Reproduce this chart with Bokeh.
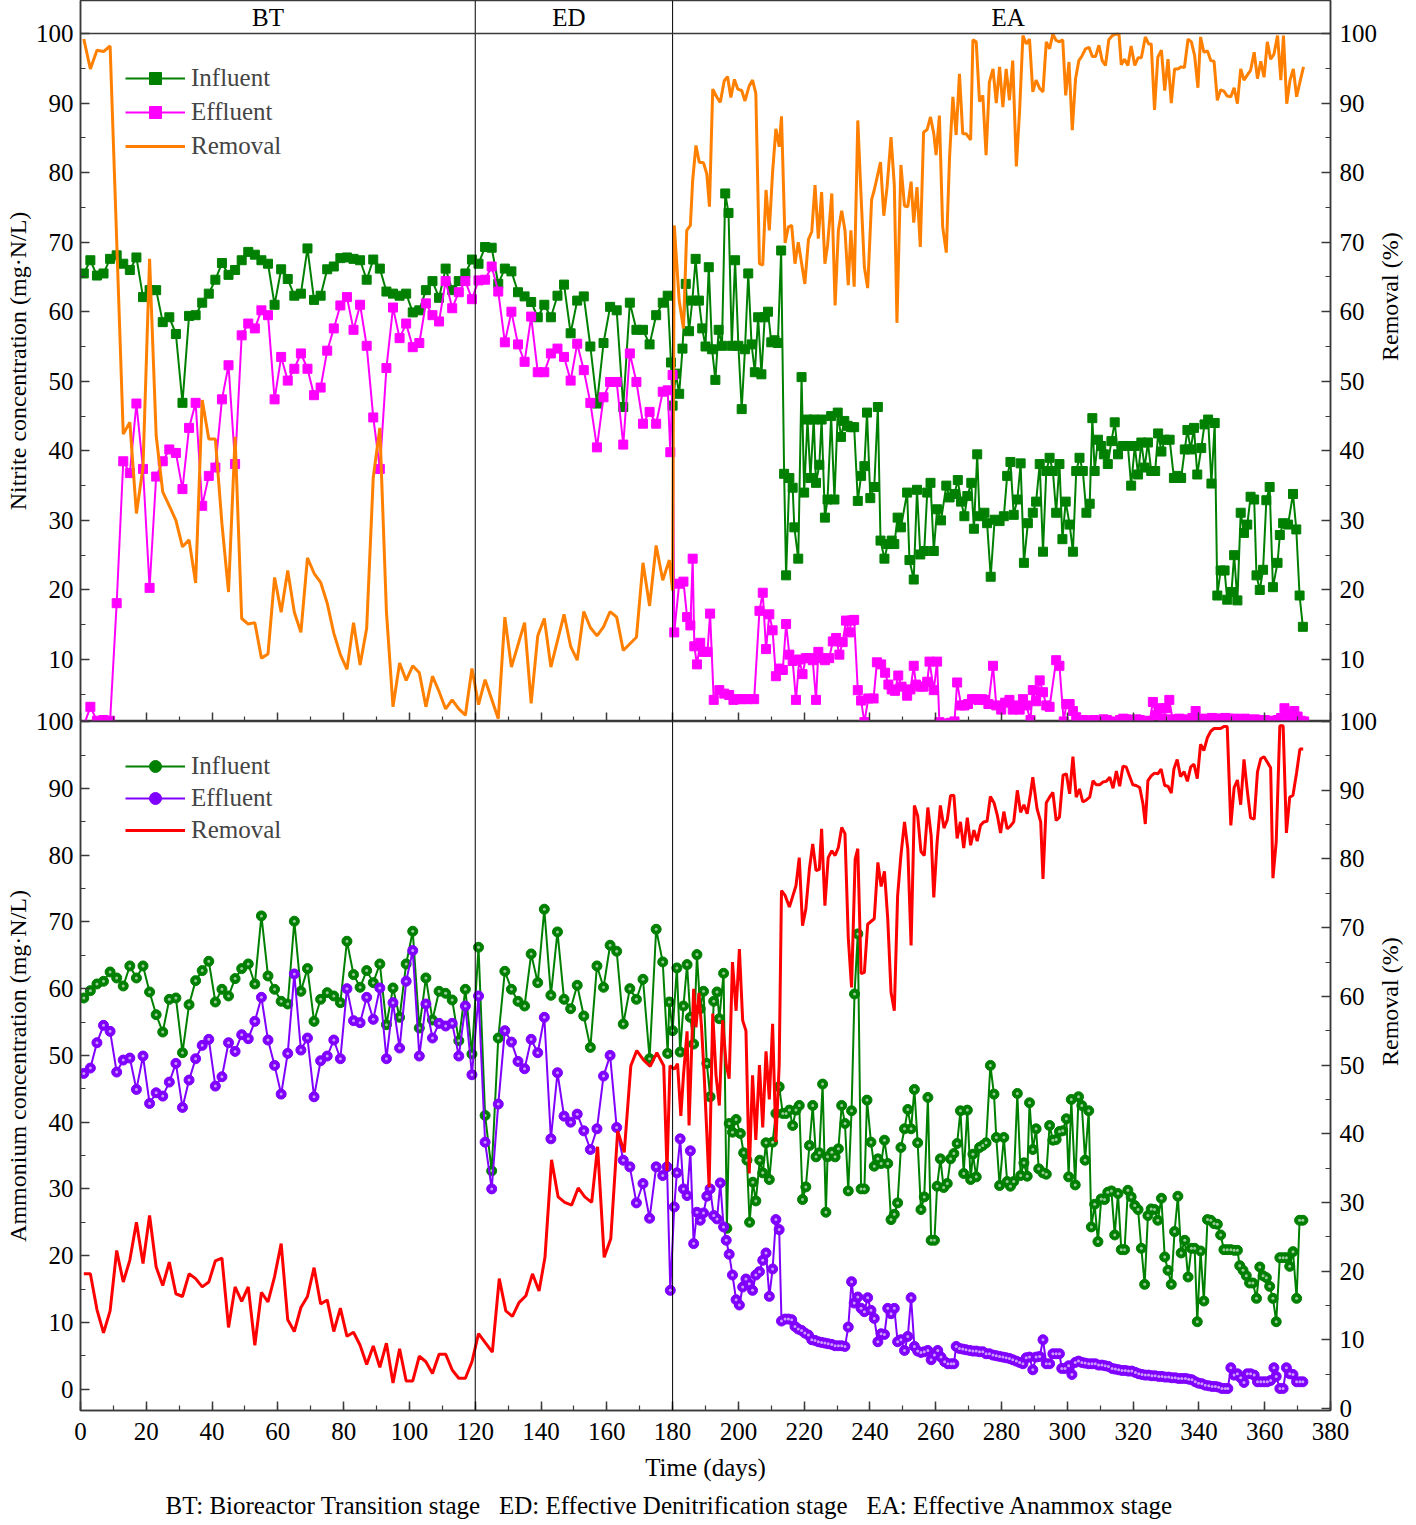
import math
from bokeh.plotting import figure
from bokeh.models import (Range1d, LinearAxis, Span, Legend, LegendItem, Title,
                          SingleIntervalTicker, FixedTicker)
from bokeh.layouts import column
from bokeh.embed import file_html
from bokeh.resources import INLINE
from bokeh.core.properties import value

FONT = "Liberation Serif"
AXC = "#3a3a3a"
FS = "25px"
FS_TITLE = "24px"
GREEN, MAGENTA, ORANGE = "#008000", "#FF00FF", "#FF8000"
PURPLE, RED = "#8000FF", "#FF0000"

# ---------------- stages ----------------
STAGE_LABELS = ["BT", "ED", "EA"]
STAGE_EDGES = [0, 120, 180, 380]
CAPTION = ("BT: Bioreactor Transition stage \u00a0 ED: Effective Denitrification stage"
           " \u00a0 EA: Effective Anammox stage")

# sampling days in BT and ED stages (every other day)
BT_DAYS = list(range(1, 122, 2))
ED_DAYS = list(range(123, 178, 2))

# ================= NITRITE =================
no2_in_bt = [65.5, 67.4, 65.2, 65.5, 67.6, 68.1, 66.9, 66.0, 67.8, 62.1,
             63.1, 63.1, 58.5, 59.2, 56.8, 46.9, 59.4, 59.5, 61.3, 62.6,
             64.6, 67.0, 65.3, 66.0, 67.4, 68.6, 68.2, 67.4, 66.9, 61.0,
             66.1, 64.7, 62.3, 62.6, 69.1, 61.7, 62.3, 66.1, 66.5, 67.7,
             67.8, 67.6, 67.4, 64.6, 67.5, 66.2, 62.9, 62.6, 62.3, 62.6,
             59.9, 60.2, 63.1, 64.4, 62.0, 66.2, 63.1, 64.4, 65.5, 67.5, 66.9]
no2_in_ed = [69.3, 69.2, 64.0, 66.2, 65.8, 62.8, 62.2, 61.4, 59.2, 61.0,
             59.2, 62.3, 63.9, 56.9, 61.6, 62.2, 55.0, 46.8, 55.5, 60.7,
             60.2, 46.3, 61.3, 57.4, 57.4, 55.3, 59.5, 61.3]
no2_in_ed_end_days = [178.5, 179.5, 180.0]
no2_in_ed_end = [62.3, 52.7, 46.5]
no2_in_ea1_days = list(range(181, 214))
no2_in_ea1 = [51.1, 48.2, 54.7, 64.0, 57.2, 61.6, 67.6, 61.6, 57.6, 55.0,
              66.4, 54.6, 50.2, 57.4, 55.1, 77.0, 74.2, 55.1, 67.4, 55.1,
              46.0, 54.6, 65.5, 55.3, 51.3, 59.2, 51.0, 59.2, 60.0, 55.6,
              55.9, 55.5, 68.8]
no2_in_ea2_days = [213.9, 214.5, 215.5, 216.5, 217.0, 218.2, 219.2, 220.0, 221.0, 221.9,
                   222.9, 223.6, 224.6, 225.3, 226.3, 227.1, 228.2, 229.2, 230.2, 231.2,
                   232.2, 233.2, 234.2, 235.2, 236.3, 237.3, 238.3, 239.1, 240.1, 241.3,
                   242.4, 243.2, 244.4, 245.4, 246.6, 247.4, 248.4, 249.4, 251.3, 252.0,
                   253.3, 254.3, 255.3, 256.5, 257.4, 258.4, 259.4]
no2_in_ea2 = [36.7, 22.1, 36.1, 34.7, 29.0, 24.5, 50.6, 34.0, 44.5, 36.1,
              44.5, 35.4, 38.0, 44.5, 30.4, 33.0, 45.0, 33.0, 45.5, 42.0,
              44.3, 43.6, 43.4, 43.4, 32.8, 36.4, 37.8, 45.5, 33.2, 34.8,
              46.3, 27.1, 24.5, 26.6, 27.1, 26.6, 30.4, 29.0, 34.0, 24.3,
              21.5, 34.4, 25.1, 25.6, 34.0, 35.4, 25.6]
no2_in_ea3_days = [260.4, 261.6, 263.2, 264.2, 265.7, 266.7, 267.7, 268.7, 269.6, 270.8,
                   271.6, 272.6, 273.3, 274.8, 275.6, 276.7, 277.9, 279.4, 280.7, 281.7,
                   282.7, 283.7, 284.8, 285.8, 286.8, 288.0, 289.5, 290.5, 291.6, 292.6,
                   293.6, 294.6, 295.6, 296.6, 297.6, 298.5, 299.5, 300.7, 301.7, 302.7,
                   303.7, 304.7, 305.8, 306.8, 307.6, 308.3, 309.3, 310.3, 311.1, 312.3,
                   313.4, 314.4, 315.4, 316.9, 318.4, 319.4, 320.5, 321.5, 322.5, 323.5,
                   324.5, 325.5, 326.7, 327.6, 328.6, 329.6, 331.1, 332.4, 333.6, 334.6,
                   335.7, 336.5, 337.5, 338.5, 339.5, 340.7, 341.7, 342.8, 343.8, 344.8,
                   345.6, 346.6, 347.8, 348.6, 349.9, 350.7, 351.7, 352.7, 353.7, 354.7,
                   355.7, 356.8, 357.5, 358.5, 359.5, 360.5, 361.5, 362.5, 363.9, 364.6,
                   365.6, 367.1, 368.6, 369.6, 370.6, 371.6]
no2_in_ea3 = [31.6, 30.0, 35.0, 33.3, 33.8, 35.8, 32.7, 30.6, 33.5, 35.4,
              28.8, 39.5, 30.6, 31.1, 29.6, 21.9, 30.1, 29.9, 30.6, 36.4,
              38.4, 30.8, 33.0, 38.2, 23.9, 29.6, 31.1, 32.7, 38.1, 25.5,
              37.1, 39.0, 37.1, 31.1, 38.1, 27.3, 32.7, 29.4, 25.5, 37.1,
              39.0, 37.1, 31.1, 32.4, 44.7, 37.1, 41.6, 40.7, 39.5, 38.1,
              41.4, 44.1, 39.5, 40.7, 40.7, 35.0, 40.7, 36.6, 41.2, 37.6,
              41.2, 37.1, 37.1, 42.5, 39.9, 41.6, 41.6, 36.1, 36.4, 36.1,
              40.2, 43.0, 40.2, 43.3, 36.6, 40.4, 43.8, 44.5, 35.3, 44.0,
              19.2, 22.8, 22.8, 18.6, 19.7, 25.0, 18.5, 31.1, 28.2, 29.4,
              33.4, 33.0, 22.1, 20.0, 22.9, 32.9, 34.8, 20.4, 23.9, 27.9,
              29.6, 29.4, 33.8, 28.7, 19.2, 14.7]

no2_out_bt = [0.5, 3.2, 1.2, 1.3, 1.2, 18.1, 38.5, 36.8, 46.8, 37.4,
              20.3, 36.3, 38.5, 40.2, 39.7, 34.5, 43.3, 46.9, 32.1, 36.4,
              37.6, 47.4, 52.3, 38.1, 56.6, 58.3, 57.6, 60.2, 59.5, 47.4,
              53.5, 50.1, 51.8, 54.0, 51.8, 48.0, 49.1, 54.4, 57.6, 60.9,
              62.1, 57.4, 61.0, 55.1, 44.8, 37.4, 51.9, 60.6, 56.2, 58.3,
              54.9, 55.5, 61.2, 59.5, 58.6, 64.4, 60.5, 62.8, 64.4, 61.8, 64.5]
no2_out_ed = [64.6, 66.5, 62.9, 55.6, 60.0, 55.3, 52.8, 59.3, 51.3, 51.3,
              54.0, 54.7, 53.5, 50.1, 55.4, 51.6, 46.9, 40.5, 47.7, 49.9,
              49.9, 40.9, 54.0, 49.9, 43.9, 45.6, 43.9, 48.5]
no2_out_ed_end_days = [178.5, 179.3, 180.0]
no2_out_ed_end = [48.7, 39.8, 50.9]
no2_out_ea1_days = [180.5, 182.0, 183.3, 184.4, 185.4, 186.1, 186.6, 187.4, 188.4, 189.4,
                    190.6, 191.4, 192.5, 194.2, 195.7, 197.2, 198.5, 199.9, 201.3, 202.8,
                    204.8, 206.4, 207.4, 208.4, 209.4, 210.4, 211.4, 212.4, 213.5, 214.5,
                    215.5, 216.5, 217.5, 218.5, 219.5, 220.5, 221.6, 222.6, 223.6, 224.3,
                    225.3, 226.3, 227.6, 228.7, 229.7, 230.7, 231.7, 232.7, 233.7, 234.4,
                    235.2, 236.3, 237.3, 238.3, 239.5, 241.1, 242.1, 243.4, 244.6, 245.6,
                    246.6, 247.6, 248.6, 249.6, 251.3, 252.3, 253.3, 254.0, 255.3, 256.3,
                    257.4, 258.1, 259.4, 260.4, 261.1]
no2_out_ea1 = [13.9, 20.9, 21.2, 16.1, 14.9, 24.5, 11.9, 9.3, 12.4, 11.1,
               11.1, 16.6, 4.2, 5.6, 5.1, 4.9, 4.2, 4.3, 4.3, 4.3,
               4.3, 17.0, 19.6, 11.5, 16.5, 14.2, 7.6, 8.7, 8.5, 15.1,
               10.7, 9.8, 4.2, 10.0, 7.9, 10.2, 10.2, 9.9, 4.2, 11.1,
               10.2, 9.9, 10.2, 12.6, 13.1, 10.7, 12.5, 15.6, 13.9, 15.6,
               15.7, 5.6, 4.1, 1.0, 4.4, 4.4, 9.6, 9.3, 8.1, 6.4,
               5.7, 5.5, 7.7, 6.1, 4.8, 5.7, 9.1, 6.4, 6.1, 6.1,
               6.8, 9.7, 5.6, 9.7, 1.0]
no2_out_ea2_days = [262.4, 263.4, 264.5, 265.7, 266.5, 267.7, 268.7, 269.8, 271.0, 272.0,
                    273.0, 274.0, 275.0, 276.0, 277.4, 278.4, 279.9, 281.1, 282.4, 283.4,
                    284.5, 285.5, 286.5, 287.5, 288.8, 289.5, 290.5, 291.6, 292.6, 293.6,
                    294.6, 296.6, 297.6, 298.9, 299.7, 300.7, 301.7, 302.7, 303.7]
no2_out_ea2 = [0.8, 0.6, 0.9, 1.1, 6.7, 3.4, 3.4, 3.6, 4.3, 4.3,
               4.2, 4.3, 4.2, 3.6, 9.1, 3.4, 2.8, 3.8, 4.2, 2.8,
               3.4, 2.8, 4.3, 3.4, 1.3, 5.6, 4.0, 7.0, 5.3, 3.4,
               3.2, 9.9, 9.1, 1.1, 3.6, 3.6, 2.6, 1.7, 1.1]
no2_out_ea3_days = list(range(305, 373))
no2_out_ea3 = [1.3, 0.8, 1.2, 1.3, 0.9, 1.2, 1.4, 1.3, 1.1, 0.5, 0.4, 1.3,
               1.5, 1.4, 1.3, 1.2, 1.4, 1.3, 0.6, 1.2, 1.1, 3.9, 2.0, 3.0,
               1.5, 3.0, 4.2, 1.4, 1.2, 1.5, 1.4, 1.3, 1.2, 1.6, 2.6, 1.3,
               1.4, 1.5, 1.3, 1.6, 1.5, 1.4, 1.5, 1.6, 1.5, 1.4, 1.5, 1.3,
               1.4, 1.5, 1.3, 1.2, 1.4, 1.3, 1.2, 1.3, 1.1, 1.2, 0.8, 1.3,
               1.6, 3.0, 2.2, 1.4, 2.6, 1.8, 1.2, 1.1]

no2_rem_bt_days = [1, 3, 5, 7, 9] + list(range(13, 122, 2))
no2_rem_bt = [99.2, 94.9, 97.6, 97.4, 98.2, 42.4, 44.1, 31.0, 37.6, 67.6,
              42.2, 34.1, 32.1, 30.0, 26.2, 27.2, 21.0, 47.3, 41.7, 41.7,
              29.5, 19.7, 42.0, 15.9, 15.1, 15.3, 10.2, 10.8, 21.8, 16.8,
              22.8, 16.8, 13.9, 24.6, 22.4, 21.1, 18.1, 13.8, 10.7, 8.6,
              15.3, 9.2, 14.5, 36.2, 43.3, 16.9, 3.2, 9.5, 7.0, 9.1,
              8.1, 3.2, 7.6, 5.4, 2.9, 4.2, 2.9, 2.0, 8.7, 3.5]
no2_rem_ed_days = [123, 127, 129, 131, 135, 137, 139, 141, 143, 147, 149, 151, 153,
                   155, 157, 159, 161, 163, 165, 169, 171, 173, 175, 177, 179, 180]
no2_rem_ed = [7.1, 1.5, 16.1, 8.9, 15.3, 3.7, 13.4, 15.9, 8.9, 16.5, 11.9, 9.9, 16.9,
              14.6, 13.4, 14.7, 16.9, 16.1, 11.3, 13.2, 23.9, 17.7, 26.4, 21.4, 24.3, 19.9]
no2_rem_ea1_days = [180.5, 182.0, 183.3, 184.3, 185.4, 186.1, 187.1, 188.1, 189.4, 190.4,
                    191.2, 192.2, 193.5, 194.5, 195.7, 196.7, 197.7, 198.8, 199.8, 201.0,
                    202.0, 203.3, 204.3, 205.3, 206.4, 207.4, 208.4, 209.4, 210.4, 211.4,
                    212.4, 213.1, 214.2, 215.2, 216.2, 217.2, 218.2, 220.2, 221.3, 222.3,
                    223.3, 224.3, 225.3, 226.3, 227.1, 228.4, 229.4, 230.4, 231.4, 232.4,
                    233.4, 234.2, 235.2, 236.3, 237.3, 238.3, 239.3, 240.5, 241.3, 243.2,
                    244.2, 245.2, 246.4, 247.4, 248.2, 249.4, 250.5, 251.5, 252.5, 253.3,
                    254.3, 255.3, 256.3, 257.4, 258.4, 259.4]
no2_rem_ea1 = [72.4, 61.6, 57.6, 71.7, 72.4, 78.9, 83.9, 81.5, 81.4, 79.8,
               75.1, 92.0, 90.8, 90.1, 93.2, 93.8, 90.8, 93.4, 92.0, 91.8,
               90.3, 92.5, 93.3, 91.4, 66.9, 66.7, 77.5, 71.7, 80.1, 86.3,
               83.7, 88.1, 69.9, 72.2, 72.4, 66.9, 70.0, 64.0, 70.4, 71.5,
               78.2, 70.5, 77.2, 66.9, 69.5, 77.0, 60.9, 71.7, 74.5, 71.7,
               63.8, 71.7, 63.6, 87.5, 76.5, 66.4, 63.4, 76.1, 77.5, 81.5,
               73.8, 77.9, 85.1, 78.2, 58.4, 81.1, 75.2, 75.1, 78.7, 72.8,
               77.9, 69.3, 85.8, 86.2, 88.0, 85.6]
no2_rem_ea2_days = [260.1, 261.1, 262.1, 263.2, 264.2, 265.2, 266.2, 267.2, 268.2, 269.2,
                    270.6, 271.3, 272.3, 273.3, 274.3, 275.3, 276.3, 277.4, 278.4, 279.4,
                    280.4, 281.4, 282.4, 283.4, 284.5, 285.5, 286.5, 287.5, 288.5, 289.5,
                    290.5, 291.6, 292.6, 293.6, 294.6, 295.6, 296.6, 297.6, 298.6, 299.5,
                    300.5, 301.5, 302.5, 303.5, 304.5, 305.5, 306.6, 307.6, 308.6, 309.6,
                    310.6, 311.6, 312.6, 313.7, 314.7, 315.7, 316.4, 317.4, 318.4, 319.4,
                    320.5, 321.5, 322.5, 323.7, 324.7, 325.5, 326.5, 327.5, 328.6, 329.6,
                    330.6, 331.6, 332.6, 333.6, 334.6, 335.6, 336.7, 337.7, 338.7, 339.7,
                    340.5, 341.5, 342.6, 343.6, 344.6, 345.6, 346.6, 347.6, 348.6, 349.7,
                    350.7, 351.7, 352.7, 353.7, 354.7, 355.7, 356.8, 357.8, 358.8, 359.8,
                    360.8, 361.8, 362.8, 363.9, 364.9, 365.7, 366.7, 367.7, 368.7, 369.7,
                    370.7, 371.8]
no2_rem_ea2 = [82.5, 88.2, 72.2, 68.5, 82.3, 90.9, 85.4, 94.2, 85.6, 85.6,
               84.7, 99.1, 98.8, 90.2, 91.1, 82.5, 93.0, 94.9, 90.0, 95.2,
               89.4, 94.9, 90.4, 96.1, 80.9, 89.0, 99.7, 98.5, 99.2, 91.6,
               93.3, 92.1, 91.6, 98.8, 97.8, 99.9, 99.0, 98.8, 99.1, 91.1,
               95.9, 86.1, 93.5, 96.1, 96.8, 97.8, 98.0, 96.7, 96.7, 98.3,
               96.1, 95.4, 99.1, 99.7, 99.9, 99.9, 95.5, 96.3, 95.4, 98.2,
               95.4, 96.5, 96.5, 99.5, 98.5, 98.5, 89.0, 96.6, 97.6, 91.8,
               96.3, 90.0, 94.9, 94.9, 95.2, 95.1, 99.2, 98.8, 96.8, 92.2,
               99.5, 97.3, 97.5, 96.1, 96.0, 90.4, 91.9, 91.7, 91.0, 90.9,
               92.2, 89.9, 94.9, 93.3, 94.0, 94.7, 97.3, 93.5, 96.0, 93.7,
               98.8, 96.3, 97.0, 99.7, 93.3, 99.7, 89.9, 93.3, 94.9, 90.9,
               93.0, 95.2]

# ================= AMMONIUM =================
nh4_in_bt = [58.6, 59.7, 60.7, 61.1, 62.5, 61.6, 60.4, 63.4, 61.6, 63.4,
             59.5, 56.1, 53.5, 58.4, 58.6, 50.4, 57.6, 61.2, 62.7, 64.1,
             58.0, 59.9, 58.9, 61.5, 63.0, 63.7, 60.7, 70.9, 61.9, 59.9,
             58.1, 57.7, 70.1, 59.6, 63.0, 55.1, 58.4, 59.4, 58.9, 57.9,
             67.1, 62.1, 60.2, 62.7, 60.9, 63.7, 54.6, 60.1, 55.7, 63.7,
             68.6, 54.1, 61.6, 55.3, 59.6, 59.3, 58.3, 52.2, 59.9, 50.2, 66.2]
nh4_in_ed = [41.0, 32.7, 52.6, 62.6, 59.9, 58.1, 57.4, 65.2, 60.9, 71.9,
             59.0, 68.5, 58.4, 57.0, 60.5, 55.9, 51.2, 63.4, 60.2, 66.5,
             65.6, 54.7, 60.0, 58.4, 61.4, 49.5, 68.9, 64.0]
nh4_in_ed_end_days = [178.5, 179.0, 180.0]
nh4_in_ed_end = [50.3, 58.0, 53.7]
nh4_in_ea_days = [181.3, 182.3, 183.3, 184.4, 185.4, 186.4, 187.4, 188.4, 189.4, 190.4,
                  191.4, 192.5, 193.5, 194.2, 195.5, 196.5, 197.2, 198.2, 199.3, 200.6,
                  201.6, 202.6, 203.4, 204.4, 205.3, 206.5, 207.4, 208.4, 209.4, 210.4,
                  211.4, 212.4, 213.5, 214.5, 215.5, 216.5, 217.5, 218.5, 219.5, 220.5,
                  221.6, 222.6, 223.6, 224.6, 225.6, 226.6, 227.1, 228.4, 229.4, 230.4,
                  231.4, 232.4, 233.4, 234.4, 235.3, 236.3, 237.3, 238.3, 239.1, 240.3,
                  241.3, 242.4, 243.4, 244.4, 245.4, 246.4, 247.4, 248.4, 249.4, 250.5,
                  251.5, 252.5, 253.5, 254.5, 255.5, 256.5, 257.6, 258.6, 259.6, 260.4,
                  261.4, 262.4, 263.5, 264.5, 265.5, 266.5, 267.5, 268.5, 269.6, 270.6,
                  271.3, 272.3, 273.3, 274.3, 275.3, 276.6, 277.7, 278.4, 279.4, 280.7,
                  281.7, 282.7, 283.7, 284.8, 285.8, 286.8, 287.8, 288.5, 289.5, 290.5,
                  291.3, 292.6, 293.6, 294.6, 295.6, 296.6, 297.6, 298.6, 299.7, 300.4,
                  301.2, 302.4, 303.4, 304.4, 305.4, 306.5, 307.3, 308.3, 309.3, 310.3,
                  311.3, 312.3, 313.4, 314.4, 315.4, 316.4, 317.4, 318.4, 319.4, 320.5,
                  321.5, 322.5, 323.5, 324.5, 325.5, 326.5, 327.5, 328.6, 329.6, 330.6,
                  331.6, 332.6, 333.6, 334.6, 335.7, 336.7, 337.7, 338.7, 339.5, 340.5,
                  341.5, 342.6, 343.6, 344.6, 345.6, 346.6, 347.6, 348.6, 349.7, 350.7,
                  351.7, 352.4, 353.4, 354.4, 355.4, 356.4, 357.5, 358.5, 359.5, 360.5,
                  361.5, 362.5, 363.5, 364.6, 365.6, 366.6, 367.6, 368.6, 369.7, 370.6,
                  371.6]
nh4_in_ea = [63.1, 50.5, 57.4, 63.6, 55.7, 51.7, 65.1, 57.0, 59.6, 48.8,
             43.8, 58.1, 59.5, 55.5, 62.3, 24.1, 39.8, 38.5, 40.4, 38.3,
             35.4, 34.3, 25.0, 31.0, 28.2, 34.3, 32.4, 36.9, 31.4, 37.0,
             41.3, 45.3, 41.3, 41.3, 41.8, 39.5, 41.8, 42.5, 28.4, 30.3,
             36.5, 42.5, 34.8, 35.4, 45.7, 26.5, 34.8, 35.5, 34.8, 36.0,
             42.5, 39.8, 29.7, 41.7, 59.2, 68.2, 30.0, 30.0, 43.3, 37.0,
             33.4, 34.5, 33.8, 37.3, 33.8, 25.4, 26.2, 27.9, 36.2, 39.0,
             41.9, 39.0, 44.9, 36.9, 26.9, 28.8, 43.7, 22.3, 22.3, 30.4,
             34.5, 30.2, 30.8, 34.5, 35.3, 36.8, 41.7, 32.3, 41.8, 31.4,
             35.2, 31.8, 36.2, 36.5, 36.9, 48.5, 44.2, 37.7, 30.5, 37.7,
             31.1, 30.4, 31.1, 44.3, 32.0, 33.9, 31.9, 42.9, 35.9, 39.0,
             33.0, 32.4, 32.2, 39.5, 37.3, 37.4, 38.6, 38.7, 40.5, 31.8,
             43.4, 30.6, 43.8, 42.5, 34.3, 41.7, 24.3, 27.7, 22.1, 28.5,
             28.4, 29.5, 29.7, 23.1, 29.3, 20.9, 20.9, 29.8, 28.8, 27.5,
             26.9, 21.1, 15.7, 26.0, 27.0, 26.9, 25.3, 28.6, 19.8, 17.8,
             15.7, 23.6, 28.9, 20.4, 22.3, 16.8, 21.1, 21.1, 10.1, 20.7,
             13.2, 25.4, 25.3, 24.8, 24.7, 23.1, 20.9, 20.9, 20.9, 20.8,
             20.8, 18.5, 17.8, 17.0, 15.9, 15.9, 13.6, 18.3, 17.0, 16.7,
             15.4, 13.6, 10.1, 19.7, 19.7, 19.7, 18.4, 20.6, 13.6, 25.3,
             25.3]

nh4_out_bt = [47.3, 48.1, 51.9, 54.5, 53.6, 47.5, 49.3, 49.6, 44.9, 49.9,
              42.8, 44.4, 43.9, 46.0, 48.8, 42.2, 46.3, 49.5, 51.5, 52.4,
              45.4, 46.8, 51.9, 50.6, 53.1, 52.5, 55.1, 58.7, 52.3, 48.5,
              44.2, 50.3, 62.2, 50.8, 52.6, 43.8, 49.2, 49.9, 52.3, 49.5,
              60.0, 55.2, 54.9, 58.7, 55.4, 60.1, 49.5, 57.9, 51.1, 61.1,
              65.7, 49.9, 57.7, 52.6, 54.8, 54.4, 54.8, 49.9, 57.4, 47.1, 58.9]
nh4_out_ed = [37.0, 30.0, 42.7, 53.7, 52.0, 49.1, 48.0, 52.4, 50.4, 55.7,
              37.5, 47.4, 40.9, 40.0, 41.2, 38.7, 35.9, 39.0, 46.9, 50.0,
              39.2, 34.3, 33.3, 27.9, 30.8, 25.6, 33.3, 32.0]
nh4_out_ed_end_days = [178.3, 179.3, 180.5]
nh4_out_ed_end = [33.3, 14.8, 27.3]
nh4_out_ea_days = [181.3, 182.3, 183.3, 184.4, 185.4, 186.4, 187.4, 188.4, 189.4, 190.4,
                   191.4, 192.5, 193.5, 194.5, 195.5, 196.3, 197.2, 198.2, 199.3, 200.3,
                   201.3, 202.3, 203.3, 204.3, 205.3, 206.4, 207.4, 208.4, 209.4, 210.4,
                   211.4, 212.4, 213.1, 214.2, 215.2, 216.2, 217.2, 218.2, 219.2, 220.2,
                   221.3, 222.3, 223.3, 224.3, 225.3, 226.3, 227.3, 228.4, 229.4, 230.4,
                   231.4, 232.4, 233.4, 234.4, 235.2, 236.3, 237.3, 238.3, 239.3, 240.3,
                   241.3, 242.4, 243.4, 244.4, 245.4, 246.4, 247.4, 248.4, 249.4, 250.5,
                   251.5, 252.5, 253.5, 254.5, 255.5, 256.5, 257.6, 258.6, 259.6, 260.6,
                   261.6, 262.7, 263.7, 264.7, 265.5, 266.2, 267.2, 268.2, 269.2, 270.3,
                   271.3, 272.3, 273.3, 274.3, 275.3, 276.3, 277.4, 278.4, 279.4, 280.4,
                   281.4, 282.4, 283.4, 284.5, 285.5, 286.5, 287.5, 288.5, 289.5, 290.5,
                   291.6, 292.6, 293.6, 294.6, 295.6, 296.6, 297.6, 298.3, 299.3, 300.4,
                   301.4, 302.4, 303.4, 304.4, 305.4, 306.5, 307.5, 308.5, 309.5, 310.5,
                   311.5, 312.5, 313.6, 314.6, 315.6, 316.6, 317.6, 318.6, 319.6, 320.7,
                   321.7, 322.7, 323.7, 324.7, 325.7, 326.7, 327.8, 328.8, 329.8, 330.8,
                   331.8, 332.8, 333.8, 334.8, 335.9, 336.9, 337.9, 338.9, 339.9, 340.9,
                   341.9, 343.0, 344.0, 345.0, 346.0, 347.0, 348.0, 348.8, 349.7, 350.7,
                   351.7, 352.7, 353.7, 354.7, 355.7, 356.8, 357.8, 358.8, 359.8, 360.8,
                   361.8, 362.8, 363.5, 364.6, 365.6, 366.6, 367.6, 368.6, 369.7, 370.7,
                   371.6]
nh4_out_ea = [32.4, 37.5, 30.0, 29.0, 35.7, 21.8, 26.5, 25.3, 26.4, 28.9,
              30.0, 26.0, 25.5, 30.9, 24.3, 22.3, 20.2, 17.1, 13.4, 12.6,
              15.3, 16.5, 15.8, 14.8, 17.1, 17.6, 19.3, 20.4, 13.9, 18.0,
              25.4, 23.9, 10.2, 10.5, 10.5, 10.4, 9.4, 9.0, 8.8, 8.4,
              8.1, 7.4, 7.3, 7.1, 7.0, 6.9, 6.8, 6.7, 6.5, 6.5,
              6.5, 6.4, 9.3, 16.1, 12.9, 13.8, 12.1, 11.6, 13.7, 11.8,
              10.6, 7.1, 8.3, 8.2, 12.1, 11.3, 12.1, 7.1, 7.4, 5.8,
              7.9, 13.7, 6.4, 5.7, 5.5, 5.6, 5.8, 4.4, 5.1, 5.8,
              4.8, 4.1, 3.8, 3.8, 3.8, 6.4, 6.1, 6.0, 5.9, 5.8,
              5.7, 5.7, 5.6, 5.6, 5.3, 5.3, 5.1, 5.0, 4.9, 4.8,
              4.7, 4.6, 4.4, 4.2, 4.0, 3.8, 4.7, 4.8, 2.9, 4.8,
              4.9, 7.4, 3.8, 3.8, 5.3, 5.3, 5.3, 3.1, 3.1, 3.5,
              2.2, 4.0, 4.2, 4.0, 3.9, 3.8, 3.8, 3.8, 3.6, 3.6,
              3.5, 3.4, 3.1, 3.0, 2.9, 2.8, 2.8, 2.7, 2.7, 2.5,
              2.3, 2.2, 2.1, 2.1, 2.0, 2.0, 1.9, 1.9, 1.8, 1.8,
              1.7, 1.7, 1.6, 1.6, 1.6, 1.5, 1.4, 1.1, 0.9, 0.8,
              0.6, 0.5, 0.4, 0.4, 0.3, 0.1, 0.1, 0.1, 3.2, 2.1,
              2.3, 1.7, 1.0, 2.3, 2.3, 2.1, 1.1, 1.1, 1.1, 1.1,
              1.3, 3.2, 1.9, 0.1, 0.1, 3.2, 2.3, 2.2, 1.1, 1.1,
              1.1]

nh4_rem_bt = [19.6, 19.6, 14.4, 11.0, 14.2, 23.0, 18.4, 21.6, 27.1, 21.1,
              28.1, 20.6, 17.9, 21.3, 16.7, 16.3, 19.6, 18.9, 17.7, 18.4,
              21.5, 21.9, 11.8, 17.7, 15.6, 17.7, 9.2, 16.9, 15.5, 19.2,
              24.0, 12.9, 11.2, 14.7, 16.3, 20.5, 15.2, 15.8, 11.2, 14.6,
              10.5, 11.1, 9.2, 6.4, 9.1, 6.0, 9.5, 3.7, 8.7, 4.0,
              4.0, 7.6, 6.8, 5.1, 7.9, 7.9, 5.6, 4.4, 4.4, 6.8, 10.9]
nh4_rem_ed_days = [125.2, 127.3, 129.3, 131.3, 133.3, 135.4, 137.4, 139.4, 141.2, 143.2,
                   145.2, 147.2, 149.3, 151.3, 153.3, 155.4, 157.2, 159.2, 161.2, 163.3,
                   165.3, 167.3, 169.1, 171.2, 173.2, 175.2, 177.3, 178.3, 179.2]
nh4_rem_ed = [8.2, 18.9, 14.2, 13.4, 15.4, 16.4, 19.6, 17.1, 22.0, 36.2,
              30.8, 30.0, 29.6, 32.1, 30.8, 30.0, 38.1, 22.0, 24.7, 40.4,
              37.3, 49.9, 52.1, 50.7, 49.8, 51.8, 49.9, 34.6, 49.9]
nh4_rem_ea1_days = [180.5, 181.5, 182.5, 183.3, 184.4, 185.0, 186.4, 187.1, 188.0, 188.8,
                    189.6, 190.4, 191.1, 192.2, 193.2, 194.2, 195.2, 196.3, 197.2, 198.2,
                    199.3, 200.3, 201.3, 202.3, 203.3, 204.3, 205.3, 206.4, 207.4, 208.4,
                    209.4, 210.4, 211.4, 212.4, 213.1]
nh4_rem_ea1 = [49.4, 50.2, 42.6, 48.5, 54.9, 41.2, 61.1, 55.5, 60.5, 55.5,
               48.5, 40.1, 32.2, 57.5, 48.5, 44.1, 56.5, 50.0, 48.0, 65.0,
               57.9, 66.9, 56.5, 55.0, 34.2, 48.5, 39.1, 50.0, 40.9, 52.0,
               45.0, 56.0, 38.8, 50.0, 75.4]
nh4_rem_ea2_days = [214.2, 215.5, 217.5, 218.5, 219.5, 220.5, 221.6, 222.6, 223.6, 224.6,
                    225.3, 226.3, 227.3, 228.4, 229.4, 230.4, 231.4, 232.4, 233.4, 234.4,
                    235.5, 236.3, 237.3, 238.3, 239.3, 241.3, 242.4, 243.4, 244.4, 245.4,
                    246.4, 247.4, 248.4, 249.4, 250.5, 251.5, 252.5, 253.5, 254.5, 255.5,
                    256.5, 257.6, 258.6, 259.4, 260.4, 261.4, 262.5, 263.5, 264.5, 265.5,
                    266.5, 267.5, 268.5, 269.6, 270.6, 271.6, 272.6, 273.6, 274.6, 275.6,
                    276.6, 277.7, 278.7, 279.7, 280.7, 281.7, 282.7, 283.7, 284.8, 285.8,
                    286.8, 287.8, 288.8, 289.5, 290.8, 291.9, 292.6, 293.6, 294.6, 295.6,
                    296.6, 297.6, 298.7, 299.7, 300.7, 301.7, 302.7, 303.7, 304.7, 305.8,
                    306.8, 307.8, 308.8, 309.8, 310.8, 311.8, 312.9, 313.9, 314.9, 315.9,
                    316.9, 317.9, 318.9, 319.9, 320.9, 322.0, 323.0, 323.7, 324.5, 325.5,
                    326.5, 327.5, 328.5, 329.6, 330.6, 331.6, 332.4, 333.4, 334.4, 335.5,
                    336.5, 337.5, 338.5, 339.5, 340.5, 341.5, 342.6, 343.6, 344.6, 345.6,
                    346.6, 347.6, 348.6, 349.7, 350.7, 351.7, 352.7, 353.7, 354.7, 355.7,
                    356.8, 357.8, 358.8, 359.8, 360.8, 361.8, 362.5, 363.5, 364.6, 365.6,
                    366.6, 367.6, 368.6, 369.7, 370.7, 371.7]
nh4_rem_ea2 = [74.7, 73.0, 76.1, 80.2, 70.3, 72.7, 78.6, 82.2, 78.3, 78.5,
               84.4, 73.2, 80.2, 81.2, 80.5, 81.7, 84.6, 83.7, 68.6, 61.3,
               80.0, 81.5, 63.3, 63.5, 70.5, 71.3, 79.5, 76.0, 78.2, 71.3,
               60.6, 57.9, 74.6, 80.5, 85.4, 81.5, 67.4, 87.8, 86.3, 81.1,
               80.5, 87.5, 83.4, 74.4, 82.4, 87.8, 84.5, 85.7, 89.2, 89.3,
               83.0, 85.4, 81.6, 86.0, 82.0, 84.2, 82.6, 84.9, 85.4, 85.5,
               89.1, 88.2, 86.4, 83.8, 86.9, 84.4, 84.8, 85.4, 90.0, 86.8,
               87.9, 86.6, 89.5, 91.9, 87.3, 85.4, 77.1, 88.2, 89.0, 89.7,
               85.6, 86.1, 92.2, 92.4, 89.5, 94.9, 89.0, 90.2, 88.3, 88.6,
               89.0, 91.4, 90.8, 90.8, 91.2, 91.3, 91.9, 90.3, 92.8, 90.6,
               93.5, 93.4, 92.1, 90.8, 90.7, 90.4, 88.0, 85.1, 91.4, 92.1,
               92.5, 92.4, 93.1, 90.7, 90.6, 89.6, 93.1, 94.5, 92.0, 92.7,
               91.3, 93.4, 93.8, 91.7, 96.7, 95.8, 97.7, 98.6, 99.0, 99.0,
               99.0, 99.3, 99.3, 84.9, 90.4, 91.5, 87.9, 94.5, 90.0, 86.0,
               85.8, 92.7, 94.6, 94.9, 94.1, 93.3, 77.2, 82.5, 99.4, 99.4,
               83.8, 89.0, 89.3, 92.6, 96.0, 96.0]

# ---------------- assemble series ----------------
def series(name, parts):
    xs, ys = [], []
    for d, v in parts:
        assert len(d) == len(v), f"{name}: {len(d)} days vs {len(v)} values"
        xs += list(d)
        ys += list(v)
    return xs, ys

NO2_IN = series("no2_in", [(BT_DAYS, no2_in_bt), (ED_DAYS, no2_in_ed),
                           (no2_in_ed_end_days, no2_in_ed_end), (no2_in_ea1_days, no2_in_ea1),
                           (no2_in_ea2_days, no2_in_ea2), (no2_in_ea3_days, no2_in_ea3)])
NO2_OUT = series("no2_out", [(BT_DAYS, no2_out_bt), (ED_DAYS, no2_out_ed),
                             (no2_out_ed_end_days, no2_out_ed_end), (no2_out_ea1_days, no2_out_ea1),
                             (no2_out_ea2_days, no2_out_ea2), (no2_out_ea3_days, no2_out_ea3)])
NO2_REM = series("no2_rem", [(no2_rem_bt_days, no2_rem_bt), (no2_rem_ed_days, no2_rem_ed),
                             (no2_rem_ea1_days, no2_rem_ea1), (no2_rem_ea2_days, no2_rem_ea2)])
NH4_IN = series("nh4_in", [(BT_DAYS, nh4_in_bt), (ED_DAYS, nh4_in_ed),
                           (nh4_in_ed_end_days, nh4_in_ed_end), (nh4_in_ea_days, nh4_in_ea)])
NH4_OUT = series("nh4_out", [(BT_DAYS, nh4_out_bt), (ED_DAYS, nh4_out_ed),
                             (nh4_out_ed_end_days, nh4_out_ed_end), (nh4_out_ea_days, nh4_out_ea)])
NH4_REM = series("nh4_rem", [(BT_DAYS, nh4_rem_bt), (nh4_rem_ed_days, nh4_rem_ed),
                             (nh4_rem_ea1_days, nh4_rem_ea1), (nh4_rem_ea2_days, nh4_rem_ea2)])


# ---------------- layout constants ----------------
X_RANGE = (0, 380)
FRAME_W = 1250
TOP_FRAME_H, BOT_FRAME_H = 721, 689
TOP_Y = (1.09, 104.74)            # includes the stage header band above 100
BOT_Y_LEFT = (-3.2, 100.02)
BOT_Y_RIGHT = (-0.3, 100.02)
STAGE_LABEL_X = [57, 148.5, 282]
STAGE_LABEL_Y = 102.3
OVERLAP = 16
BORDER_L, BORDER_R = 80, 86


def style_axis(ax, interval, side):
    ax.ticker = SingleIntervalTicker(interval=interval, num_minor_ticks=2)
    ax.axis_line_color = AXC
    ax.axis_line_width = 1.5
    ax.major_tick_line_color = AXC
    ax.major_tick_line_width = 1.5
    ax.minor_tick_line_color = AXC
    ax.minor_tick_line_width = 1.2
    ax.major_tick_in = 9
    ax.major_tick_out = 0
    ax.minor_tick_in = 5
    ax.minor_tick_out = 0
    ax.major_label_text_font = FONT
    ax.major_label_text_font_size = FS
    ax.major_label_text_color = "black"
    ax.axis_label_text_font = FONT
    ax.axis_label_text_font_size = FS_TITLE if side in ("left", "right") else FS
    ax.axis_label_text_font_style = "normal"
    ax.axis_label_text_color = "black"
    if side == "left":
        ax.major_label_standoff = 7
        ax.axis_label_standoff = 2
    elif side == "right":
        ax.major_label_standoff = 9
        ax.axis_label_standoff = 10
        ax.axis_label_orientation = math.pi / 2
    else:
        ax.major_label_standoff = 12
        ax.axis_label_standoff = 11


def tick_only_axis(positions, length):
    """An x axis that draws only inward ticks (no labels) at the panel junction."""
    ax = LinearAxis(ticker=FixedTicker(ticks=[], minor_ticks=positions))
    ax.axis_line_color = AXC
    ax.axis_line_width = 1.5
    ax.minor_tick_line_color = AXC
    ax.minor_tick_line_width = 1.5 if length > 6 else 1.2
    ax.minor_tick_in = length
    ax.minor_tick_out = 0
    ax.major_tick_in = 0
    ax.major_tick_out = 0
    ax.major_label_standoff = 0
    ax.axis_label_standoff = 0
    return ax


def make_legend(items, loc, spacing):
    return Legend(items=items, location=loc, orientation="vertical",
                  background_fill_alpha=0, border_line_alpha=0,
                  label_text_font=FONT, label_text_font_size=FS,
                  glyph_width=60, glyph_height=30, label_height=30,
                  label_standoff=6, spacing=spacing, padding=0, margin=0)


def add_stage_lines(p):
    for edge in STAGE_EDGES[1:-1]:
        p.add_layout(Span(location=edge, dimension="height", line_color="black", line_width=1))


# ---------------- top panel (nitrite) ----------------
top = figure(frame_width=FRAME_W, frame_height=TOP_FRAME_H,
             x_range=Range1d(*X_RANGE), y_range=Range1d(*TOP_Y),
             output_backend="svg", toolbar_location=None, x_axis_location=None,
             min_border_left=BORDER_L, min_border_right=BORDER_R,
             min_border_top=0, min_border_bottom=0,
             outline_line_color=AXC, outline_line_width=1.5, background_fill_color="white")
top.extra_y_ranges = {"rem": Range1d(*TOP_Y)}
top.xgrid.visible = False
top.ygrid.visible = False
style_axis(top.yaxis[0], 10, "left")
top.yaxis[0].axis_label = "Nitrite concentration (mg\u00b7N/L)"
rax_top = LinearAxis(y_range_name="rem", axis_label="Removal (%)")
style_axis(rax_top, 10, "right")
top.add_layout(rax_top, "right")
top.add_layout(tick_only_axis(list(range(10, 380, 20)), 5), "below")
top.add_layout(tick_only_axis(list(range(0, 381, 20)), 9), "below")

add_stage_lines(top)
top.add_layout(Span(location=100, dimension="width", line_color=AXC, line_width=1.5))
top.text(x=STAGE_LABEL_X, y=[STAGE_LABEL_Y] * 3, text=STAGE_LABELS, text_font=value(FONT),
         text_font_size=FS, text_align="center", text_baseline="middle", text_color="black")

l1 = top.line(*NO2_IN, line_color=GREEN, line_width=2)
s1 = top.scatter(*NO2_IN, marker="square", size=9, fill_color=GREEN, line_color=GREEN)
l2 = top.line(*NO2_OUT, line_color=MAGENTA, line_width=2)
s2 = top.scatter(*NO2_OUT, marker="square", size=9, fill_color=MAGENTA, line_color=MAGENTA)
l3 = top.line(*NO2_REM, line_color=ORANGE, line_width=3, y_range_name="rem")

top.add_layout(make_legend([LegendItem(label="Influent", renderers=[l1, s1]),
                            LegendItem(label="Effluent", renderers=[l2, s2]),
                            LegendItem(label="Removal", renderers=[l3])], (45, 560), 4))

# ---------------- bottom panel (ammonium) ----------------
bot = figure(frame_width=FRAME_W, frame_height=BOT_FRAME_H,
             x_range=Range1d(*X_RANGE), y_range=Range1d(*BOT_Y_LEFT),
             output_backend="svg", toolbar_location=None,
             min_border_left=BORDER_L, min_border_right=BORDER_R,
             min_border_top=OVERLAP, min_border_bottom=0,
             outline_line_color=AXC, outline_line_width=1.5, background_fill_color="white",
             border_fill_color=None, margin=(-OVERLAP, 0, 0, 0))
bot.extra_y_ranges = {"rem": Range1d(*BOT_Y_RIGHT)}
bot.xgrid.visible = False
bot.ygrid.visible = False
style_axis(bot.xaxis[0], 20, "below")
bot.xaxis[0].axis_label = "Time (days)"
style_axis(bot.yaxis[0], 10, "left")
bot.yaxis[0].axis_label = "Ammonium concentration (mg\u00b7N/L)"
rax_bot = LinearAxis(y_range_name="rem", axis_label="Removal (%)")
style_axis(rax_bot, 10, "right")
bot.add_layout(rax_bot, "right")
add_stage_lines(bot)

m1 = bot.line(*NH4_IN, line_color=GREEN, line_width=2)
c1 = bot.scatter(*NH4_IN, marker="circle", size=10, fill_color=GREEN, line_color=GREEN)
bot.scatter(*NH4_IN, marker="circle", size=3, fill_color="white", fill_alpha=0.6, line_color=None)
m2 = bot.line(*NH4_OUT, line_color=PURPLE, line_width=2)
c2 = bot.scatter(*NH4_OUT, marker="circle", size=10, fill_color=PURPLE, line_color=PURPLE)
bot.scatter(*NH4_OUT, marker="circle", size=3, fill_color="white", fill_alpha=0.6, line_color=None)
m3 = bot.line(*NH4_REM, line_color=RED, line_width=3, y_range_name="rem")

bot.add_layout(make_legend([LegendItem(label="Influent", renderers=[m1, c1]),
                            LegendItem(label="Effluent", renderers=[m2, c2]),
                            LegendItem(label="Removal", renderers=[m3])], (45, 565), 2))

bot.add_layout(Title(text=CAPTION, text_font=FONT, text_font_size=FS, text_font_style="normal",
                     text_color="black", align="left", offset=85, standoff=12), "below")

layout = column(top, bot, spacing=0)
open("out.html", "w").write(file_html(layout, INLINE))
